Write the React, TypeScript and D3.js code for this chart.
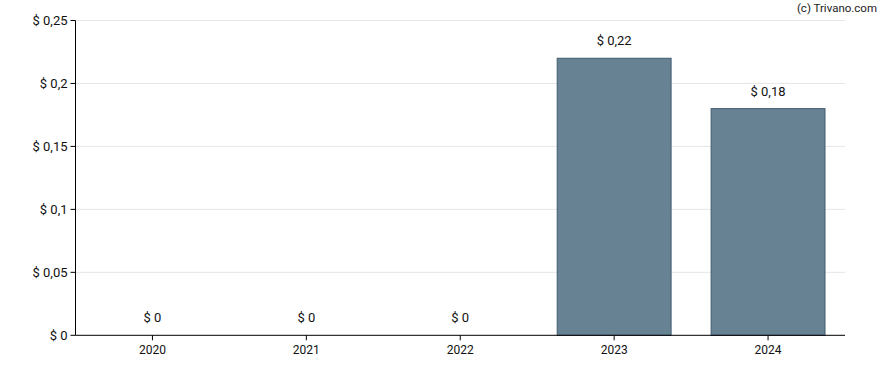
import React from "react";
import * as d3 from "d3";

const categories = ["2020", "2021", "2022", "2023", "2024"];
const values = [0, 0, 0, 0.22, 0.18];
const valueLabels = ["$ 0", "$ 0", "$ 0", "$ 0,22", "$ 0,18"];
const yTicks = [0, 0.05, 0.1, 0.15, 0.2, 0.25];
const yTickLabels = ["$ 0", "$ 0,05", "$ 0,1", "$ 0,15", "$ 0,2", "$ 0,25"];

export default function App() {
  const W = 888, H = 370;
  const m = { left: 75.5, right: 43, top: 20.5, bottom: 34.7 };
  const x = d3.scaleBand().domain(categories).range([m.left, W - m.right]).paddingInner(0.26).paddingOuter(0.13);
  const y = d3.scaleLinear().domain([0, 0.25]).range([H - m.bottom, m.top]);
  const font = "Roboto, Arial, sans-serif";
  return (
    <svg width={W} height={H} style={{ position: "absolute", left: 0, top: 0 }}>
      <text x={877} y={12} textAnchor="end" fontFamily={font} fontSize={11.5} fill="#222">(c) Trivano.com</text>
      {yTicks.map((t, i) => (
        <g key={i}>
          {t > 0 && <line x1={m.left} x2={W - m.right} y1={y(t)} y2={y(t)} stroke="#e6e6e6" />}
          <line x1={m.left - 5} x2={m.left} y1={y(t)} y2={y(t)} stroke="#000" />
          <text x={m.left - 8} y={y(t)} dy="0.35em" textAnchor="end" fontFamily={font} fontSize={13} fill="#111">{yTickLabels[i]}</text>
        </g>
      ))}
      {categories.map((c, i) => {
        const bx = x(c)!;
        const bw = x.bandwidth();
        const cx = bx + bw / 2;
        return (
          <g key={c}>
            {values[i] > 0 && (
              <rect x={bx} y={y(values[i])} width={bw} height={y(0) - y(values[i])} fill="#678293" stroke="#3f5b6e" strokeWidth={1} />
            )}
            <text x={cx} y={y(values[i]) - 13} textAnchor="middle" fontFamily={font} fontSize={13} fill="#111">{valueLabels[i]}</text>
            <line x1={cx} x2={cx} y1={y(0)} y2={y(0) + 5} stroke="#000" />
            <text x={cx} y={y(0) + 18.5} textAnchor="middle" fontFamily={font} fontSize={12} fill="#111">{c}</text>
          </g>
        );
      })}
      <line x1={m.left} x2={m.left} y1={m.top} y2={y(0)} stroke="#000" />
      <line x1={m.left} x2={W - m.right} y1={y(0)} y2={y(0)} stroke="#000" />
    </svg>
  );
}
